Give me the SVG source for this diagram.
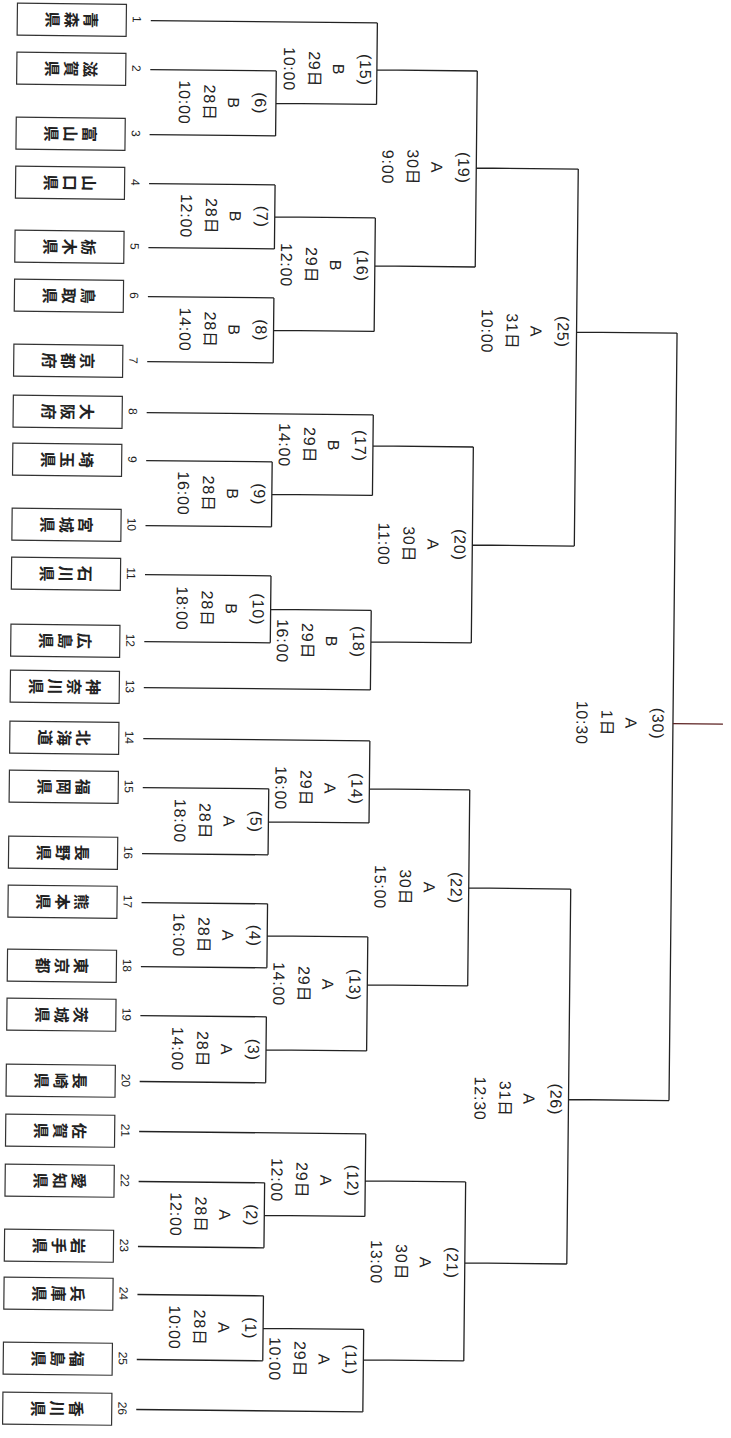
<svg xmlns="http://www.w3.org/2000/svg" width="731" height="1438" viewBox="0 0 731 1438">
<style>
.bx{fill:#fff;stroke:#333;stroke-width:1.2}
.nm{font-family:"Noto Sans CJK JP",sans-serif;font-size:16px;font-weight:bold;fill:#222;writing-mode:vertical-rl;text-anchor:middle;letter-spacing:3px}
.no{font-family:"Liberation Sans",sans-serif;font-size:12px;fill:#222;text-anchor:middle;dominant-baseline:central}
.lb{font-family:"Liberation Sans","Noto Sans CJK JP",sans-serif;font-size:16px;fill:#222;text-anchor:middle;dominant-baseline:central;letter-spacing:0.8px}
.ln{fill:none;stroke:#222;stroke-width:1.3}
</style>
<rect width="731" height="1438" fill="#fff"/>
<g transform="rotate(0.6)">
<g id="connectors" class="ln">
<path d="M151 19H377.6M151 68H277M151 133H277M151 182H277M151 246H277M151 295H277M151 360H277M151 411H377.6M151 459H277M151 524H277M151 573H277M151 640H277M151 686H377.6M151 737H377.6M151 786H277M151 852H277M151 901H277M151 965H277M151 1014H277M151 1080H277M151 1130H377.6M151 1180H277M151 1245H277M151 1293H277M151 1358H277M151 1408H377.6"/>
<path d="M277 68V133M277 100.5H377.6M277 182V246M277 214H377.6M277 295V360M277 327.5H377.6M277 459V524M277 491.5H377.6M277 573V640M277 606.5H377.6M277 786V852M277 819H377.6M277 901V965M277 933H377.6M277 1014V1080M277 1047H377.6M277 1180V1245M277 1212.5H377.6M277 1293V1358M277 1325.5H377.6"/>
<path d="M377.6 19V100.5M377.6 66H478M377.6 214V327.5M377.6 262H478M377.6 411V491.5M377.6 442H478M377.6 606.5V686M377.6 638H478M377.6 737V819M377.6 785H478M377.6 933V1047M377.6 981H478M377.6 1130V1212.5M377.6 1177H478M377.6 1325.5V1408M377.6 1356H478"/>
<path d="M478 66V262M478 163H580M478 442V638M478 540H580M478 785V981M478 883H580M478 1177V1356M478 1258H580"/>
<path d="M580 163V540M580 326H680.5M580 883V1258M580 1093.5H680.5M680.5 326V1093.5"/>
<path d="M680.5 716.6H730.5" stroke="#5c2222"/>
</g>
<g id="team-1"><rect class="bx" x="17.5" y="3" width="109" height="32"/><text class="nm" transform="translate(72,19) rotate(90)" y="1.5">青森県</text><text class="no" transform="translate(137,18) rotate(90)">1</text></g>
<g id="team-2"><rect class="bx" x="17.5" y="52" width="109" height="32"/><text class="nm" transform="translate(72,68) rotate(90)" y="1.5">滋賀県</text><text class="no" transform="translate(137,67) rotate(90)">2</text></g>
<g id="team-3"><rect class="bx" x="17.5" y="117" width="109" height="32"/><text class="nm" transform="translate(72,133) rotate(90)" y="1.5">富山県</text><text class="no" transform="translate(137,132) rotate(90)">3</text></g>
<g id="team-4"><rect class="bx" x="17.5" y="166" width="109" height="32"/><text class="nm" transform="translate(72,182) rotate(90)" y="1.5">山口県</text><text class="no" transform="translate(137,181) rotate(90)">4</text></g>
<g id="team-5"><rect class="bx" x="17.5" y="230" width="109" height="32"/><text class="nm" transform="translate(72,246) rotate(90)" y="1.5">栃木県</text><text class="no" transform="translate(137,245) rotate(90)">5</text></g>
<g id="team-6"><rect class="bx" x="17.5" y="279" width="109" height="32"/><text class="nm" transform="translate(72,295) rotate(90)" y="1.5">鳥取県</text><text class="no" transform="translate(137,294) rotate(90)">6</text></g>
<g id="team-7"><rect class="bx" x="17.5" y="344" width="109" height="32"/><text class="nm" transform="translate(72,360) rotate(90)" y="1.5">京都府</text><text class="no" transform="translate(137,359) rotate(90)">7</text></g>
<g id="team-8"><rect class="bx" x="17.5" y="395" width="109" height="32"/><text class="nm" transform="translate(72,411) rotate(90)" y="1.5">大阪府</text><text class="no" transform="translate(137,410) rotate(90)">8</text></g>
<g id="team-9"><rect class="bx" x="17.5" y="443" width="109" height="32"/><text class="nm" transform="translate(72,459) rotate(90)" y="1.5">埼玉県</text><text class="no" transform="translate(137,458) rotate(90)">9</text></g>
<g id="team-10"><rect class="bx" x="17.5" y="508" width="109" height="32"/><text class="nm" transform="translate(72,524) rotate(90)" y="1.5">宮城県</text><text class="no" transform="translate(137,523) rotate(90)">10</text></g>
<g id="team-11"><rect class="bx" x="17.5" y="557" width="109" height="32"/><text class="nm" transform="translate(72,573) rotate(90)" y="1.5">石川県</text><text class="no" transform="translate(137,572) rotate(90)">11</text></g>
<g id="team-12"><rect class="bx" x="17.5" y="624" width="109" height="32"/><text class="nm" transform="translate(72,640) rotate(90)" y="1.5">広島県</text><text class="no" transform="translate(137,639) rotate(90)">12</text></g>
<g id="team-13"><rect class="bx" x="17.5" y="670" width="109" height="32"/><text class="nm" transform="translate(72,686) rotate(90)" y="1.5">神奈川県</text><text class="no" transform="translate(137,685) rotate(90)">13</text></g>
<g id="team-14"><rect class="bx" x="17.5" y="721" width="109" height="32"/><text class="nm" transform="translate(72,737) rotate(90)" y="1.5">北海道</text><text class="no" transform="translate(137,736) rotate(90)">14</text></g>
<g id="team-15"><rect class="bx" x="17.5" y="770" width="109" height="32"/><text class="nm" transform="translate(72,786) rotate(90)" y="1.5">福岡県</text><text class="no" transform="translate(137,785) rotate(90)">15</text></g>
<g id="team-16"><rect class="bx" x="17.5" y="836" width="109" height="32"/><text class="nm" transform="translate(72,852) rotate(90)" y="1.5">長野県</text><text class="no" transform="translate(137,851) rotate(90)">16</text></g>
<g id="team-17"><rect class="bx" x="17.5" y="885" width="109" height="32"/><text class="nm" transform="translate(72,901) rotate(90)" y="1.5">熊本県</text><text class="no" transform="translate(137,900) rotate(90)">17</text></g>
<g id="team-18"><rect class="bx" x="17.5" y="949" width="109" height="32"/><text class="nm" transform="translate(72,965) rotate(90)" y="1.5">東京都</text><text class="no" transform="translate(137,964) rotate(90)">18</text></g>
<g id="team-19"><rect class="bx" x="17.5" y="998" width="109" height="32"/><text class="nm" transform="translate(72,1014) rotate(90)" y="1.5">茨城県</text><text class="no" transform="translate(137,1013) rotate(90)">19</text></g>
<g id="team-20"><rect class="bx" x="17.5" y="1064" width="109" height="32"/><text class="nm" transform="translate(72,1080) rotate(90)" y="1.5">長崎県</text><text class="no" transform="translate(137,1079) rotate(90)">20</text></g>
<g id="team-21"><rect class="bx" x="17.5" y="1114" width="109" height="32"/><text class="nm" transform="translate(72,1130) rotate(90)" y="1.5">佐賀県</text><text class="no" transform="translate(137,1129) rotate(90)">21</text></g>
<g id="team-22"><rect class="bx" x="17.5" y="1164" width="109" height="32"/><text class="nm" transform="translate(72,1180) rotate(90)" y="1.5">愛知県</text><text class="no" transform="translate(137,1179) rotate(90)">22</text></g>
<g id="team-23"><rect class="bx" x="17.5" y="1229" width="109" height="32"/><text class="nm" transform="translate(72,1245) rotate(90)" y="1.5">岩手県</text><text class="no" transform="translate(137,1244) rotate(90)">23</text></g>
<g id="team-24"><rect class="bx" x="17.5" y="1277" width="109" height="32"/><text class="nm" transform="translate(72,1293) rotate(90)" y="1.5">兵庫県</text><text class="no" transform="translate(137,1292) rotate(90)">24</text></g>
<g id="team-25"><rect class="bx" x="17.5" y="1342" width="109" height="32"/><text class="nm" transform="translate(72,1358) rotate(90)" y="1.5">福島県</text><text class="no" transform="translate(137,1357) rotate(90)">25</text></g>
<g id="team-26"><rect class="bx" x="17.5" y="1392" width="109" height="32"/><text class="nm" transform="translate(72,1408) rotate(90)" y="1.5">香川県</text><text class="no" transform="translate(137,1407) rotate(90)">26</text></g>
<g id="m1"><text class="lb" transform="translate(265,1325.5) rotate(90)"><tspan x="0" y="0">(1)</tspan><tspan x="0" y="27">A</tspan><tspan x="0" y="51">28日</tspan><tspan x="0" y="76">10:00</tspan></text></g>
<g id="m2"><text class="lb" transform="translate(265,1212.5) rotate(90)"><tspan x="0" y="0">(2)</tspan><tspan x="0" y="27">A</tspan><tspan x="0" y="51">28日</tspan><tspan x="0" y="76">12:00</tspan></text></g>
<g id="m3"><text class="lb" transform="translate(265,1047) rotate(90)"><tspan x="0" y="0">(3)</tspan><tspan x="0" y="27">A</tspan><tspan x="0" y="51">28日</tspan><tspan x="0" y="76">14:00</tspan></text></g>
<g id="m4"><text class="lb" transform="translate(265,933) rotate(90)"><tspan x="0" y="0">(4)</tspan><tspan x="0" y="27">A</tspan><tspan x="0" y="51">28日</tspan><tspan x="0" y="76">16:00</tspan></text></g>
<g id="m5"><text class="lb" transform="translate(265,819) rotate(90)"><tspan x="0" y="0">(5)</tspan><tspan x="0" y="27">A</tspan><tspan x="0" y="51">28日</tspan><tspan x="0" y="76">18:00</tspan></text></g>
<g id="m6"><text class="lb" transform="translate(262,100.5) rotate(90)"><tspan x="0" y="0">(6)</tspan><tspan x="0" y="27">B</tspan><tspan x="0" y="51">28日</tspan><tspan x="0" y="76">10:00</tspan></text></g>
<g id="m7"><text class="lb" transform="translate(265,214) rotate(90)"><tspan x="0" y="0">(7)</tspan><tspan x="0" y="27">B</tspan><tspan x="0" y="51">28日</tspan><tspan x="0" y="76">12:00</tspan></text></g>
<g id="m8"><text class="lb" transform="translate(265,327.5) rotate(90)"><tspan x="0" y="0">(8)</tspan><tspan x="0" y="27">B</tspan><tspan x="0" y="51">28日</tspan><tspan x="0" y="76">14:00</tspan></text></g>
<g id="m9"><text class="lb" transform="translate(265,491.5) rotate(90)"><tspan x="0" y="0">(9)</tspan><tspan x="0" y="27">B</tspan><tspan x="0" y="51">28日</tspan><tspan x="0" y="76">16:00</tspan></text></g>
<g id="m10"><text class="lb" transform="translate(265,606.5) rotate(90)"><tspan x="0" y="0">(10)</tspan><tspan x="0" y="27">B</tspan><tspan x="0" y="51">28日</tspan><tspan x="0" y="76">18:00</tspan></text></g>
<g id="m11"><text class="lb" transform="translate(365.6,1356) rotate(90)"><tspan x="0" y="0">(11)</tspan><tspan x="0" y="27">A</tspan><tspan x="0" y="51">29日</tspan><tspan x="0" y="76">10:00</tspan></text></g>
<g id="m12"><text class="lb" transform="translate(365.6,1177) rotate(90)"><tspan x="0" y="0">(12)</tspan><tspan x="0" y="27">A</tspan><tspan x="0" y="51">29日</tspan><tspan x="0" y="76">12:00</tspan></text></g>
<g id="m13"><text class="lb" transform="translate(365.6,981) rotate(90)"><tspan x="0" y="0">(13)</tspan><tspan x="0" y="27">A</tspan><tspan x="0" y="51">29日</tspan><tspan x="0" y="76">14:00</tspan></text></g>
<g id="m14"><text class="lb" transform="translate(365.6,785) rotate(90)"><tspan x="0" y="0">(14)</tspan><tspan x="0" y="27">A</tspan><tspan x="0" y="51">29日</tspan><tspan x="0" y="76">16:00</tspan></text></g>
<g id="m15"><text class="lb" transform="translate(366.6,66) rotate(90)"><tspan x="0" y="0">(15)</tspan><tspan x="0" y="27">B</tspan><tspan x="0" y="51">29日</tspan><tspan x="0" y="76">10:00</tspan></text></g>
<g id="m16"><text class="lb" transform="translate(365.6,262) rotate(90)"><tspan x="0" y="0">(16)</tspan><tspan x="0" y="27">B</tspan><tspan x="0" y="51">29日</tspan><tspan x="0" y="76">12:00</tspan></text></g>
<g id="m17"><text class="lb" transform="translate(365.6,442) rotate(90)"><tspan x="0" y="0">(17)</tspan><tspan x="0" y="27">B</tspan><tspan x="0" y="51">29日</tspan><tspan x="0" y="76">14:00</tspan></text></g>
<g id="m18"><text class="lb" transform="translate(365.6,638) rotate(90)"><tspan x="0" y="0">(18)</tspan><tspan x="0" y="27">B</tspan><tspan x="0" y="51">29日</tspan><tspan x="0" y="76">16:00</tspan></text></g>
<g id="m19"><text class="lb" transform="translate(466,163) rotate(90)"><tspan x="0" y="0">(19)</tspan><tspan x="0" y="27">A</tspan><tspan x="0" y="51">30日</tspan><tspan x="0" y="76">9:00</tspan></text></g>
<g id="m20"><text class="lb" transform="translate(466,540) rotate(90)"><tspan x="0" y="0">(20)</tspan><tspan x="0" y="27">A</tspan><tspan x="0" y="51">30日</tspan><tspan x="0" y="76">11:00</tspan></text></g>
<g id="m21"><text class="lb" transform="translate(466,1258) rotate(90)"><tspan x="0" y="0">(21)</tspan><tspan x="0" y="27">A</tspan><tspan x="0" y="51">30日</tspan><tspan x="0" y="76">13:00</tspan></text></g>
<g id="m22"><text class="lb" transform="translate(466,883) rotate(90)"><tspan x="0" y="0">(22)</tspan><tspan x="0" y="27">A</tspan><tspan x="0" y="51">30日</tspan><tspan x="0" y="76">15:00</tspan></text></g>
<g id="m25"><text class="lb" transform="translate(567,326) rotate(90)"><tspan x="0" y="0">(25)</tspan><tspan x="0" y="27">A</tspan><tspan x="0" y="51">31日</tspan><tspan x="0" y="76">10:00</tspan></text></g>
<g id="m26"><text class="lb" transform="translate(568,1093.5) rotate(90)"><tspan x="0" y="0">(26)</tspan><tspan x="0" y="27">A</tspan><tspan x="0" y="51">31日</tspan><tspan x="0" y="76">12:30</tspan></text></g>
<g id="m30"><text class="lb" transform="translate(666,716.6) rotate(90)"><tspan x="0" y="0">(30)</tspan><tspan x="0" y="27">A</tspan><tspan x="0" y="51">1日</tspan><tspan x="0" y="76">10:30</tspan></text></g>
</g>
</svg>
